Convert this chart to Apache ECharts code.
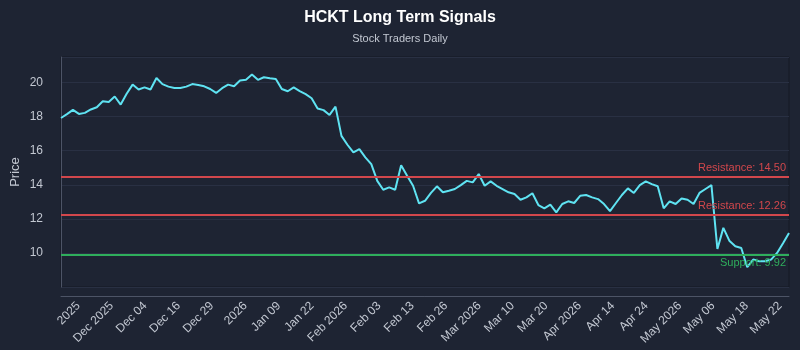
<!DOCTYPE html>
<html>
<head>
<meta charset="utf-8">
<script src="https://cdn.jsdelivr.net/npm/echarts@6/dist/echarts.min.js"></script>
<style>
	html, body { margin: 0; padding: 0; background: #1e2433; }
	#main { width: 800px; height: 350px; }
</style>
</head>
<body>
<div id="main"></div>
<script>
// closing prices, one per trading session
var prices = [
	17.92, 18.15, 18.40, 18.16, 18.22, 18.42, 18.55, 18.90, 18.86, 19.18,
	18.71, 19.34, 19.88, 19.59, 19.72, 19.59, 20.27, 19.91, 19.76, 19.68,
	19.68, 19.76, 19.91, 19.86, 19.78, 19.62, 19.39, 19.67, 19.88, 19.78,
	20.12, 20.16, 20.47, 20.16, 20.31, 20.25, 20.21, 19.62, 19.49, 19.72,
	19.50, 19.32, 19.08, 18.48, 18.38, 18.10, 18.59, 16.87, 16.35, 15.90,
	16.09, 15.61, 15.21, 14.23, 13.71, 13.85, 13.71, 15.15, 14.53, 13.94,
	12.91, 13.06, 13.52, 13.91, 13.56, 13.65, 13.75, 13.98, 14.23, 14.14,
	14.63, 13.94, 14.20, 13.94, 13.75, 13.56, 13.46, 13.12, 13.26, 13.50,
	12.81, 12.62, 12.83, 12.38, 12.87, 13.03, 12.93, 13.35, 13.40, 13.26,
	13.16, 12.87, 12.45, 12.93, 13.40, 13.79, 13.52, 13.98, 14.20, 14.04,
	13.91, 12.62, 13.03, 12.87, 13.20, 13.12, 12.87, 13.52, 13.75, 13.98,
	10.23, 11.47, 10.72, 10.39, 10.29, 9.16, 9.61, 9.51, 9.51, 9.61,
	10.00, 10.57, 11.17
];

var tickLabels = [
	'2025', 'Dec 2025', 'Dec 04', 'Dec 16', 'Dec 29', '2026', 'Jan 09', 'Jan 22',
	'Feb 2026', 'Feb 03', 'Feb 13', 'Feb 26', 'Mar 2026', 'Mar 10', 'Mar 20',
	'Apr 2026', 'Apr 14', 'Apr 24', 'May 2026', 'May 06', 'May 18', 'May 22'
];

var levelNames = ['Resistance', 'Resistance', 'Support'];
var levelValues = [14.50, 12.26, 9.92];
var levelColors = ['#d2474c', '#d2474c', '#2fae5c'];

var Page = function(){

	var chart;
	// label slots sit evenly along the axis
	var tickStart = 2.9, tickStep = 5.6;

	var initChart = function(){
		chart = echarts.init(document.getElementById('main'));

		var seriesData = prices.map(function(p, i){ return [i, p]; });
		var tickPos = tickLabels.map(function(t, j){ return tickStart + j * tickStep; });

		var marks = levelValues.map(function(v, k){
			return {
				yAxis: v,
				lineStyle: { color: levelColors[k], width: 2, type: 'solid' },
				label: {
					show: true,
					position: k < 2 ? 'insideEndTop' : 'insideEndBottom',
					formatter: levelNames[k] + ': ' + v.toFixed(2),
					color: levelColors[k],
					fontSize: 11,
					fontFamily: 'Liberation Sans',
					distance: 3
				}
			};
		});

		var option = {
			backgroundColor: '#1e2433',
			animation: false,
			title: {
				text: 'HCKT Long Term Signals',
				subtext: 'Stock Traders Daily',
				left: 'center',
				top: 5,
				itemGap: 7,
				textStyle: { color: '#ffffff', fontSize: 16, fontWeight: 'bold', fontFamily: 'Liberation Sans' },
				subtextStyle: { color: '#c3c8d2', fontSize: 11, fontFamily: 'Liberation Sans' }
			},
			grid: {
				left: 61,
				right: 11,
				top: 57,
				bottom: 63,
				outerBoundsMode: 'none',
				show: true,
				borderColor: '#141925',
				borderWidth: 1
			},
			xAxis: {
				type: 'value',
				min: 0,
				max: prices.length - 1,
				offset: 9,
				axisLine: { show: true, lineStyle: { color: '#4d5466' } },
				axisTick: { show: false },
				splitLine: { show: false },
				axisLabel: {
					rotate: 45,
					color: '#c3c8d2',
					fontSize: 12,
					fontFamily: 'Liberation Sans',
					margin: 8,
					customValues: tickPos,
					formatter: function(v){
						var j = Math.round((v - tickStart) / tickStep);
						return tickLabels[j] || '';
					}
				}
			},
			yAxis: {
				type: 'value',
				min: 8,
				max: 21.5,
				interval: 2,
				offset: 11,
				name: 'Price',
				nameLocation: 'middle',
				nameGap: 28,
				nameMoveOverlap: false,
				nameTextStyle: { color: '#c3c8d2', fontSize: 13, fontFamily: 'Liberation Sans' },
				axisLine: { show: true, lineStyle: { color: '#4d5466' } },
				axisTick: { show: false },
				splitLine: { show: true, lineStyle: { color: '#293043', width: 1 } },
				axisLabel: {
					color: '#c3c8d2',
					fontSize: 12,
					fontFamily: 'Liberation Sans',
					margin: 7,
					formatter: function(v){
						return (v >= 10 && v % 2 === 0) ? v : '';
					}
				}
			},
			series: [
				{
					name: 'Price',
					type: 'line',
					data: seriesData,
					symbol: 'none',
					lineStyle: { color: '#5fe3f2', width: 2 },
					markLine: {
						silent: true,
						symbol: 'none',
						data: marks
					}
				}
			]
		};
		chart.setOption(option);
	}

	return {
		init: function(){
			initChart();
		}
	}
}();

Page.init();
</script>
</body>
</html>
